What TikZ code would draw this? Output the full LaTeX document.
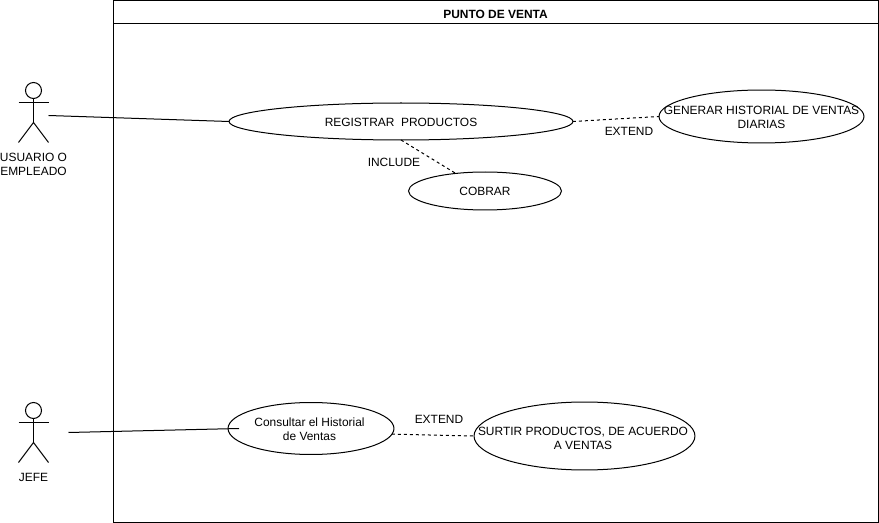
\documentclass[tikz,border=0pt]{standalone}
\usepackage{fontspec}
\setmainfont{Liberation Sans}
\usepackage{tikz}
\usetikzlibrary{shapes.geometric}

\tikzset{
  usecase/.style={draw,ellipse,inner sep=0pt,outer sep=0pt},
  label text/.style={inner sep=0pt,align=center},
  head/.style={draw,circle,inner sep=0pt,outer sep=0pt,minimum size=0.32cm},
  relation/.style={dash pattern=on 0.06cm off 0.06cm}
}
\newcommand{\casetext}[2][-2.8pt]{\makebox[0pt]{\raisebox{#1}[0pt][0pt]{\begin{tabular}{@{}c@{}}#2\end{tabular}}}}

\begin{document}
\begin{tikzpicture}[x=0.02cm,y=-0.02cm,line width=0.57pt,font=\fontsize{6.8}{7.94}\selectfont]
\useasboundingbox (0,0) rectangle (879,523);
% system box
\draw (113.5,0.5) rectangle (878.5,522.5);
\draw (113.5,23.5) -- (878.5,23.5);
\node [label text,font=\fontsize{6.8}{7.94}\selectfont\bfseries] (title) at (495.5,14) {PUNTO DE VENTA};

% use cases
\node [usecase,minimum width=6.88cm,minimum height=0.74cm] (registrar) at (401,121.5) {\casetext{REGISTRAR~~PRODUCTOS}};
\node [usecase,minimum width=4.1cm,minimum height=1.06cm] (generar) at (761.5,116.5) {\casetext[-3.2pt]{GENERAR HISTORIAL DE VENTAS\\DIARIAS}};
\node [usecase,minimum width=3.06cm,minimum height=0.76cm] (cobrar) at (485,191) {\casetext{COBRAR}};
\node [usecase,minimum width=3.32cm,minimum height=1.04cm] (consultar) at (311,428.5) {\hspace*{-1.7pt}\casetext{Consultar el Historial\\de Ventas}};
\node [usecase,minimum width=4.42cm,minimum height=1.36cm] (surtir) at (584.5,436) {\hspace*{-1.7pt}\casetext[-3.8pt]{SURTIR PRODUCTOS, DE ACUERDO\\A VENTAS}};

% actor 1
\node [head] (head1) at (33.5,90.5) {};
\draw (head1) -- (33.5,122.5);
\draw (18.5,102.5) -- (48.5,102.5);
\draw (18.5,142.5) -- (33.5,122.5) -- (48.5,142.5);
\node [label text] (usuario) at (33.5,164) {USUARIO O\\EMPLEADO};

% actor 2
\node [head] (head2) at (33.5,410.5) {};
\draw (head2) -- (33.5,442.5);
\draw (18.5,422.5) -- (48.5,422.5);
\draw (18.5,462.5) -- (33.5,442.5) -- (48.5,462.5);
\node [label text] (jefe) at (33.5,477) {JEFE};

% associations
\coordinate (usuarioEnd) at (48.5,115.5);
\coordinate (jefeEnd) at (68.5,432.5);
\coordinate (consultarEnd) at (239,428.5);
\draw (usuarioEnd) -- (registrar.west);
\draw (jefeEnd) -- (consultarEnd);

% extend and include
\draw [relation] (registrar.east) -- (generar.west);
\node [label text] (extend1) at (629,131) {EXTEND};
\draw [relation] (registrar.south) -- (cobrar.149);
\node [label text] (include) at (394,162) {INCLUDE};
\draw [relation] (consultar.-4.5) -- (surtir.west);
\node [label text] (extend2) at (439,419) {EXTEND};

\end{tikzpicture}
\end{document}
